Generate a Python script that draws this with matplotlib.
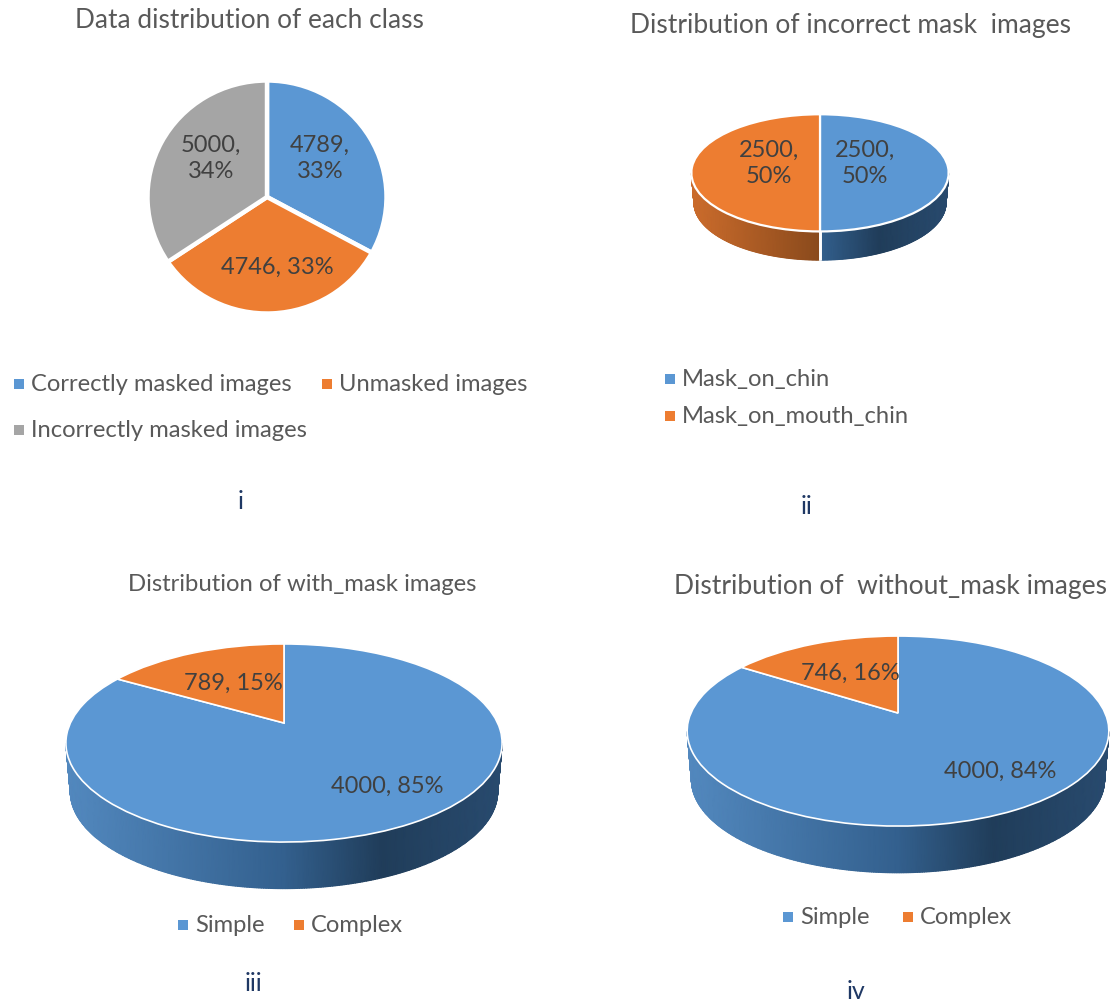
import numpy as np
import matplotlib
matplotlib.use("Agg")
import matplotlib.pyplot as plt
from matplotlib.colors import LinearSegmentedColormap
from matplotlib.patches import Rectangle
from matplotlib.transforms import Transform

plt.rcParams['font.family'] = ['Lato', 'DejaVu Sans']

# counts and the percentages printed next to them
class_counts = [4789, 4746, 5000]
class_pct = [33, 33, 34]
class_names = ["Correctly masked images", "Unmasked images", "Incorrectly masked images"]

incorrect_counts = [2500, 2500]
incorrect_pct = [50, 50]
incorrect_names = ["Mask_on_chin", "Mask_on_mouth_chin"]

with_mask_counts = [4000, 789]
with_mask_pct = [85, 15]
without_mask_counts = [4000, 746]
without_mask_pct = [84, 16]
complexity_names = ["Simple", "Complex"]

BLUE = "#5B97D3"
ORANGE = "#ED7D31"
GRAY = "#A5A5A5"
TITLE_COL = "#595959"
LABEL_COL = "#404040"
INDEX_COL = "#1F3864"

# side wall shading, left to right across the pie
blue_wall = LinearSegmentedColormap.from_list("blue_wall", [(0, "#5288BE"), (0.5, "#33608E"), (0.73, "#203D5A"), (1, "#284A6E")])
orange_wall = LinearSegmentedColormap.from_list("orange_wall", [(0, "#CC6C2C"), (0.5, "#8A4A1C"), (1, "#8A4A1C")])


class DiscProjection(Transform):
    """Tilted disc: unit circle to pixel positions, near edge drawn larger."""
    input_dims = 2
    output_dims = 2

    def __init__(self, cx, cy, a, b, k):
        super().__init__()
        self.cx, self.cy, self.a, self.b, self.k = cx, cy, a, b, k

    def transform_non_affine(self, values):
        values = np.asarray(values, dtype=float)
        w = 1 + self.k * values[:, 1]
        x = self.cx + self.a * values[:, 0] / w
        y = self.cy - self.b * values[:, 1] / w
        return np.column_stack([x, y])


fig = plt.figure(figsize=(11.15, 10.04), dpi=100)
ax = fig.add_axes([0, 0, 1, 1])


def draw_pie(counts, colors, cx, cy, a, b, k, edge, depth=0, shrink=0.98):
    proj = DiscProjection(cx, cy, a, b, k)
    wedges, _ = ax.pie(counts, colors=colors, startangle=90, counterclock=False,
                       wedgeprops=dict(edgecolor="white", linewidth=edge))
    for w in wedges:
        w.set_transform(proj + ax.transData)
        w.set_zorder(3)

    if depth == 0:
        return

    # side wall below the front part of the rim
    tilt = np.degrees(np.arcsin(k))
    theta = np.linspace(180 + tilt, 360 - tilt, 300)
    for w, col in zip(wedges, colors):
        keep = (theta - w.theta1) % 360 <= (w.theta2 - w.theta1)
        if keep.sum() < 2:
            continue
        t = np.radians(theta[keep])
        rim = proj.transform_non_affine(np.column_stack([np.cos(t), np.sin(t)]))
        low_x = cx + shrink * (rim[:, 0] - cx)
        low_y = cy + shrink * (rim[:, 1] - cy) + depth
        X = np.vstack([rim[:, 0], low_x])
        Y = np.vstack([rim[:, 1], low_y])
        C = (X - (cx - a - 1)) / (2 * a + 2)
        cmap = blue_wall if col == BLUE else orange_wall
        ax.pcolormesh(X, Y, C, cmap=cmap, vmin=0, vmax=1, shading="gouraud", zorder=1)

    # split between slices where it faces the viewer
    for w in wedges:
        for ang in (w.theta1, w.theta2):
            t = np.radians(ang)
            if np.sin(t) < -k:
                px, py = proj.transform_non_affine(np.array([[np.cos(t), np.sin(t)]]))[0]
                ax.plot([px, cx + shrink * (px - cx)], [py, cy + shrink * (py - cy) + depth],
                        color="white", lw=edge * 1.2, zorder=2, solid_capstyle="butt")


def legend_entry(x, y, name, col):
    ax.add_patch(Rectangle((x - 5, y - 5), 10, 10, facecolor=col, edgecolor="none", zorder=3))
    ax.text(x + 12, y, name, color=TITLE_COL, fontsize=17.1, ha="left", va="center")


def pie_label(x, y, count, pct, two_lines=False):
    sep = ",\n" if two_lines else ", "
    ax.text(x, y, f"{count}{sep}{pct}%", color=LABEL_COL, fontsize=17, ha="center", va="center",
            linespacing=1.3, zorder=5)


# i
ax.text(249, 21, "Data distribution of each class", color=TITLE_COL, fontsize=18.9, ha="center", va="center")
draw_pie(class_counts, [BLUE, ORANGE, GRAY], 267, 198, 119.5, 116.5, 0, edge=3.2)
pie_label(320, 158, class_counts[0], class_pct[0], True)
pie_label(277, 267, class_counts[1], class_pct[1])
pie_label(211, 158, class_counts[2], class_pct[2], True)
legend_entry(19, 385, class_names[0], BLUE)
legend_entry(327, 385, class_names[1], ORANGE)
legend_entry(19, 431, class_names[2], GRAY)
ax.text(241, 502, "i", color=INDEX_COL, fontsize=18, ha="center", va="center")

# ii
ax.text(851, 25, "Distribution of incorrect mask  images", color=TITLE_COL, fontsize=19, ha="center", va="center")
draw_pie(incorrect_counts, [BLUE, ORANGE], 820, 168, 128, 58, 0.1, edge=1.6, depth=30)
pie_label(865, 163, incorrect_counts[0], incorrect_pct[0], True)
pie_label(769, 163, incorrect_counts[1], incorrect_pct[1], True)
legend_entry(670, 380, incorrect_names[0], BLUE)
legend_entry(670, 417, incorrect_names[1], ORANGE)
ax.text(806, 507, "ii", color=INDEX_COL, fontsize=18, ha="center", va="center")

# iii
ax.text(302, 585, "Distribution of with_mask images", color=TITLE_COL, fontsize=17.2, ha="center", va="center")
draw_pie(with_mask_counts, [BLUE, ORANGE], 284, 724, 213.6, 95, 0.202, edge=1.2, depth=49)
pie_label(387, 786, with_mask_counts[0], with_mask_pct[0])
pie_label(233, 683, with_mask_counts[1], with_mask_pct[1])
legend_entry(183, 926, complexity_names[0], BLUE)
legend_entry(299, 926, complexity_names[1], ORANGE)
ax.text(253, 984, "iii", color=INDEX_COL, fontsize=18, ha="center", va="center")

# iv
ax.text(891, 587, "Distribution of  without_mask images", color=TITLE_COL, fontsize=19, ha="center", va="center")
draw_pie(without_mask_counts, [BLUE, ORANGE], 898, 714, 207, 91.6, 0.19, edge=1.2, depth=49)
pie_label(1000, 771, without_mask_counts[0], without_mask_pct[0])
pie_label(850, 673, without_mask_counts[1], without_mask_pct[1])
legend_entry(788, 918, complexity_names[0], BLUE)
legend_entry(908, 918, complexity_names[1], ORANGE)
ax.text(856, 992, "iv", color=INDEX_COL, fontsize=18, ha="center", va="center")

ax.set_aspect("auto")
ax.set_xlim(0, 1115)
ax.set_ylim(1004, 0)
ax.axis("off")

fig.savefig("out.png", dpi=100)
